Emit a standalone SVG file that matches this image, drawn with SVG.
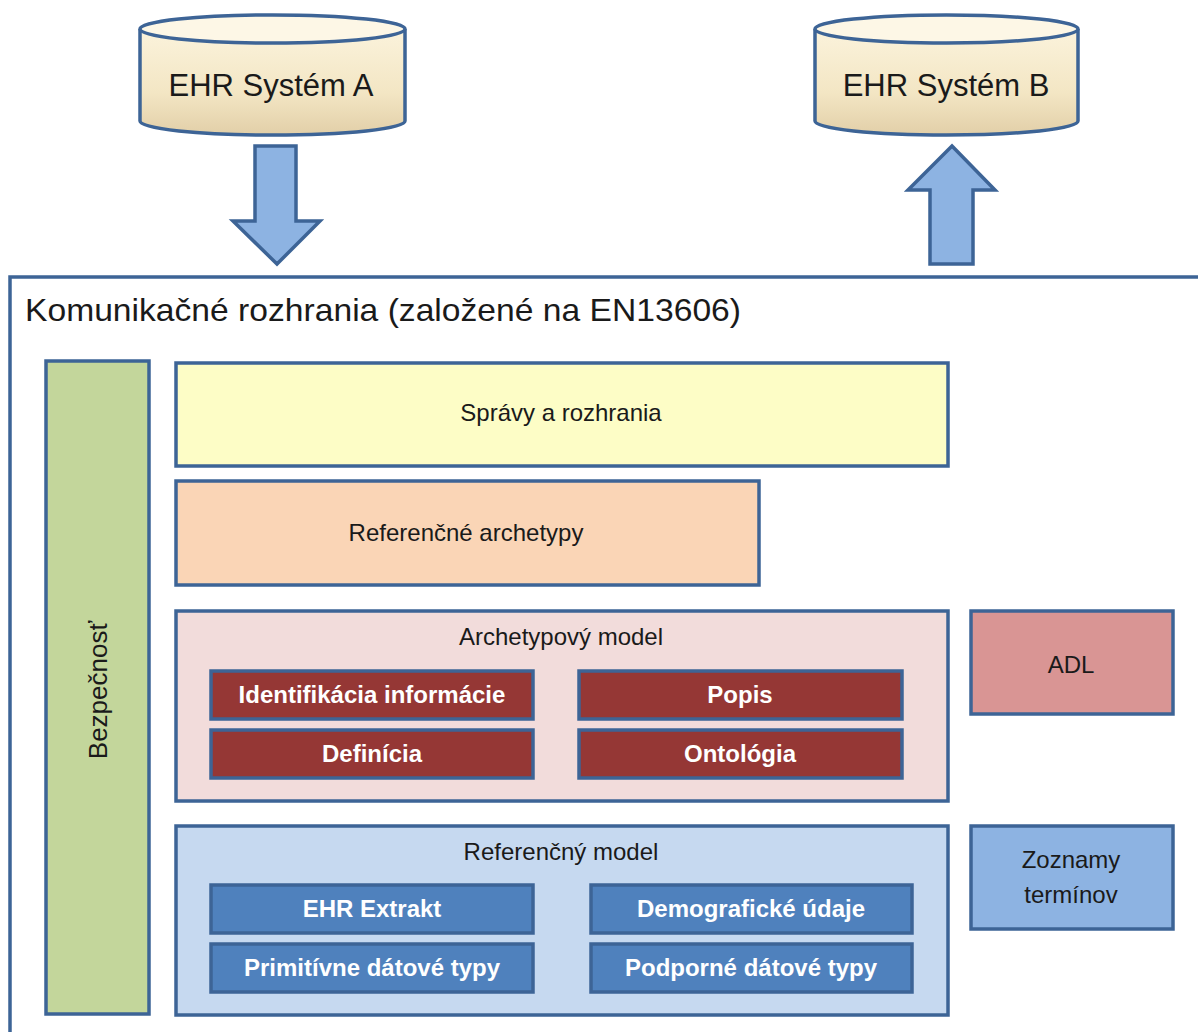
<svg xmlns="http://www.w3.org/2000/svg" width="1198" height="1032" viewBox="0 0 1198 1032">
<defs>
<linearGradient id="cylBody" x1="0" y1="0" x2="0" y2="1">
<stop offset="0" stop-color="#fbf3dc"/>
<stop offset="0.6" stop-color="#f3e6c4"/>
<stop offset="1" stop-color="#e2cfa8"/>
</linearGradient>
<style>
.stk{stroke:#3d6496;stroke-width:3.5}
.lbl{font-family:"Liberation Sans",Arial,sans-serif;fill:#1a1a1a;text-anchor:middle}
.wlbl{font-family:"Liberation Sans",Arial,sans-serif;fill:#ffffff;text-anchor:middle;font-weight:bold;font-size:24px}
.arrow{fill:#8db3e2;stroke:#3d6496;stroke-width:3.5;stroke-linejoin:miter}
</style>
</defs>
<rect width="1198" height="1032" fill="#ffffff"/>

<g id="ehr-a">
<path d="M140,29 L140,121 A132.5,14 0 0 0 405,121 L405,29" fill="url(#cylBody)" class="stk"/>
<ellipse cx="272.5" cy="29" rx="132.5" ry="14" fill="#fdf7e6" class="stk"/>
<text x="271" y="96" class="lbl" font-size="31">EHR Systém A</text>
</g>

<g id="ehr-b">
<path d="M815,29 L815,121 A131.5,14 0 0 0 1078,121 L1078,29" fill="url(#cylBody)" class="stk"/>
<ellipse cx="946.5" cy="29" rx="131.5" ry="14" fill="#fdf7e6" class="stk"/>
<text x="946" y="96" class="lbl" font-size="31">EHR Systém B</text>
</g>

<g id="connectors">
<polygon class="arrow" points="255,146 296,146 296,221 320,221 277,264 233,221 255,221"/>
<polygon class="arrow" points="952,146 995,190 973,190 973,264 930,264 930,190 908,190"/>
</g>

<g id="frame">
<path d="M10,1040 L10,277 L1205,277" fill="none" class="stk"/>
<text x="25" y="321" font-family="Liberation Sans,Arial,sans-serif" font-size="32" fill="#1a1a1a" textLength="716" lengthAdjust="spacingAndGlyphs">Komunikačné rozhrania (založené na EN13606)</text>
</g>

<g id="bezpecnost">
<rect x="46" y="361" width="103" height="653" fill="#c3d69b" class="stk"/>
<text class="lbl" font-size="26" transform="translate(107,690) rotate(-90)">Bezpečnosť</text>
</g>

<g id="spravy">
<rect x="176" y="363" width="772" height="103" fill="#fdfdc6" class="stk"/>
<text x="561" y="421" class="lbl" font-size="24">Správy a rozhrania</text>
</g>

<g id="ref-archetypy">
<rect x="176" y="481" width="583" height="104" fill="#fad5b6" class="stk"/>
<text x="466" y="541" class="lbl" font-size="24">Referenčné archetypy</text>
</g>

<g id="archetypovy-model">
<rect x="176" y="611" width="772" height="190" fill="#f2dcdb" class="stk"/>
<text x="561" y="645" class="lbl" font-size="24">Archetypový model</text>
</g>
<g id="identifikacia">
<rect x="211" y="671" width="322" height="48" fill="#953735" class="stk"/>
<text x="372" y="703" class="wlbl">Identifikácia informácie</text>
</g>
<g id="popis">
<rect x="579" y="671" width="323" height="48" fill="#953735" class="stk"/>
<text x="740" y="703" class="wlbl">Popis</text>
</g>
<g id="definicia">
<rect x="211" y="730" width="322" height="48" fill="#953735" class="stk"/>
<text x="372" y="762" class="wlbl">Definícia</text>
</g>
<g id="ontologia">
<rect x="579" y="730" width="323" height="48" fill="#953735" class="stk"/>
<text x="740" y="762" class="wlbl">Ontológia</text>
</g>

<g id="adl">
<rect x="971" y="611" width="202" height="103" fill="#d99594" class="stk"/>
<text x="1071" y="673" class="lbl" font-size="24">ADL</text>
</g>

<g id="referencny-model">
<rect x="176" y="826" width="772" height="189" fill="#c6d9f0" class="stk"/>
<text x="561" y="860" class="lbl" font-size="24">Referenčný model</text>
</g>
<g id="ehr-extrakt">
<rect x="211" y="885" width="322" height="48" fill="#4f81bd" class="stk"/>
<text x="372" y="917" class="wlbl">EHR Extrakt</text>
</g>
<g id="demograficke">
<rect x="591" y="885" width="321" height="48" fill="#4f81bd" class="stk"/>
<text x="751" y="917" class="wlbl">Demografické údaje</text>
</g>
<g id="primitivne">
<rect x="211" y="944" width="322" height="48" fill="#4f81bd" class="stk"/>
<text x="372" y="976" class="wlbl">Primitívne dátové typy</text>
</g>
<g id="podporne">
<rect x="591" y="944" width="321" height="48" fill="#4f81bd" class="stk"/>
<text x="751" y="976" class="wlbl">Podporné dátové typy</text>
</g>

<g id="zoznamy">
<rect x="971" y="826" width="202" height="103" fill="#8db3e2" class="stk"/>
<text x="1071" y="868" class="lbl" font-size="24">Zoznamy</text>
<text x="1071" y="903" class="lbl" font-size="24">termínov</text>
</g>
</svg>
